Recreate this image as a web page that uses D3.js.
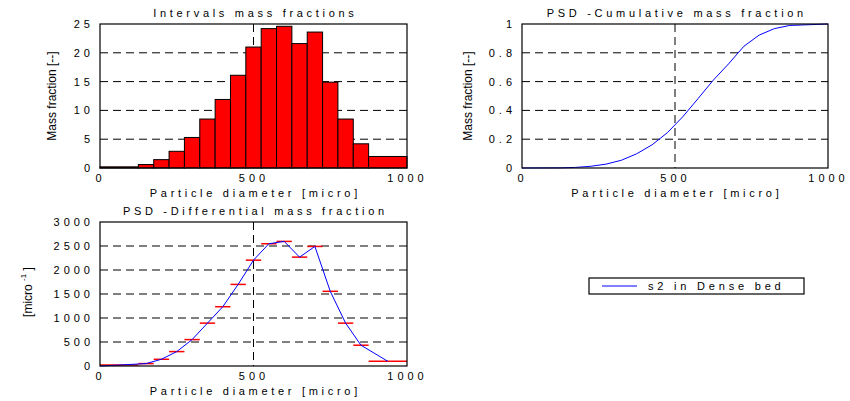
<!DOCTYPE html>
<html>
<head>
<meta charset="utf-8">
<script src="https://cdn.jsdelivr.net/npm/d3@7"></script>
<style>
  body { margin: 0; background: #fff; }
  svg { display: block; font-family: "Liberation Sans", Arial, Helvetica, sans-serif; }
</style>
</head>
<body>
<div id="chart"></div>
<script>
// PSD panels: interval fractions, cumulative, differential

// bin edges in micro
const binEdges = [0, 125, 175, 225, 275, 325, 375, 425, 475, 525, 575, 625, 675, 725, 775, 825, 875, 1000];
// interval mass fraction per bin
const intervalFractions = [0.2, 0.6, 1.45, 2.9, 5.3, 8.5, 11.9, 16.1, 21.0, 24.2, 24.6, 21.6, 23.6, 14.9, 8.5, 4.2, 2.0];
// cumulative mass fraction at each bin edge
const cumulativeFractions = [0, 0.001, 0.004, 0.012, 0.027, 0.054, 0.099, 0.161, 0.245, 0.355, 0.481, 0.610, 0.723, 0.845, 0.923, 0.968, 0.990, 1.0];
// differential values per bin (red steps)
const differentialValues = [20, 50, 140, 300, 550, 893, 1235, 1700, 2205, 2547, 2596, 2268, 2491, 1556, 893, 433, 98];
// blue differential line
const differentialLineDiameters = [0, 62.5, 150, 200, 250, 300, 350, 400, 450, 500, 550, 600, 650, 700, 750, 800, 850, 937.5];
const differentialLineValues = [0, 20, 50, 140, 300, 550, 893, 1235, 1700, 2205, 2547, 2596, 2268, 2491, 1556, 893, 433, 98];

const xTicks = [0, 500, 1000];
const intervalTicks = [0, 5, 10, 15, 20, 25];
const cumulativeTicks = [0, 0.2, 0.4, 0.6, 0.8, 1];
const cumulativeTickLabels = ["0", "0.2", "0.4", "0.6", "0.8", "1"];
const differentialTicks = [0, 500, 1000, 1500, 2000, 2500, 3000];
const legendLabel = "s2 in Dense bed";

const width = 850, height = 401;
const spaced = 3.7;   // letter spacing of titles / axis titles
const tickSpacing = 4;

const svg = d3.select("#chart").append("svg")
    .attr("width", width)
    .attr("height", height);

function drawPanel(o) {
    const x = d3.scaleLinear().domain([0, 1000]).range([o.left, o.left + o.w]);
    const y = d3.scaleLinear().domain(o.yDomain).range([o.top + o.h, o.top]);
    const g = svg.append("g");

    // dashed grid
    const grid = g.append("g")
        .attr("stroke", "#000")
        .attr("stroke-width", 1)
        .attr("stroke-dasharray", "8,5");
    grid.selectAll("line.h")
        .data(o.yTicks.slice(1, -1))
        .join("line")
        .attr("class", "h")
        .attr("x1", o.left).attr("x2", o.left + o.w)
        .attr("y1", d => y(d)).attr("y2", d => y(d));
    grid.append("line")
        .attr("x1", x(500)).attr("x2", x(500))
        .attr("y1", o.top).attr("y2", o.top + o.h);

    // y tick labels
    const yAxis = d3.axisLeft(y)
        .tickValues(o.yTicks)
        .tickFormat((d, i) => o.yLabels ? o.yLabels[i] : d)
        .tickSize(0)
        .tickPadding(10 - tickSpacing);
    g.append("g")
        .attr("transform", `translate(${o.left},0)`)
        .call(yAxis)
        .call(a => a.select(".domain").remove())
        .selectAll("text")
        .attr("fill", "#000")
        .style("font-size", "11px")
        .style("letter-spacing", tickSpacing + "px")
        .style("font-family", "inherit");

    // x tick labels
    const xAxis = d3.axisBottom(x)
        .tickValues(xTicks)
        .tickFormat(d => d)
        .tickSize(0)
        .tickPadding(6);
    g.append("g")
        .attr("transform", `translate(0,${o.top + o.h})`)
        .call(xAxis)
        .call(a => a.select(".domain").remove())
        .selectAll("text")
        .attr("fill", "#000")
        .style("font-size", "11px")
        .style("letter-spacing", tickSpacing + "px")
        .style("font-family", "inherit");

    // title and x axis title
    g.append("text")
        .attr("x", o.left + o.w / 2 + spaced / 2)
        .attr("y", o.top - 7.5)
        .attr("text-anchor", "middle")
        .style("font-size", "11px")
        .style("letter-spacing", spaced + "px")
        .text(o.title);
    g.append("text")
        .attr("x", o.left + o.w / 2 + spaced / 2)
        .attr("y", o.top + o.h + 28.5)
        .attr("text-anchor", "middle")
        .style("font-size", "11px")
        .style("letter-spacing", spaced + "px")
        .text("Particle diameter [micro]");

    return { x, y, g };
}

function drawFrame(o) {
    svg.append("rect")
        .attr("x", o.left).attr("y", o.top)
        .attr("width", o.w).attr("height", o.h)
        .attr("fill", "none")
        .attr("stroke", "#000")
        .attr("stroke-width", 1.2);
}

// ---- Intervals mass fractions ----
const p1 = { left: 100, top: 24, w: 307, h: 144, yDomain: [0, 25], yTicks: intervalTicks, title: "Intervals mass fractions" };
const c1 = drawPanel(p1);
c1.g.append("g")
    .selectAll("rect")
    .data(intervalFractions)
    .join("rect")
    .attr("x", (d, i) => c1.x(binEdges[i]))
    .attr("width", (d, i) => c1.x(binEdges[i + 1]) - c1.x(binEdges[i]))
    .attr("y", d => c1.y(d))
    .attr("height", d => c1.y(0) - c1.y(d))
    .attr("fill", "#ff0000")
    .attr("stroke", "#000")
    .attr("stroke-width", 1);
drawFrame(p1);
c1.g.append("text")
    .attr("transform", `translate(56,${p1.top + p1.h / 2}) rotate(-90)`)
    .attr("text-anchor", "middle")
    .style("font-size", "12px")
    .text("Mass fraction [--]");

// ---- Cumulative ----
const p2 = { left: 522, top: 24, w: 306, h: 144, yDomain: [0, 1], yTicks: cumulativeTicks, yLabels: cumulativeTickLabels, title: "PSD -Cumulative mass fraction" };
const c2 = drawPanel(p2);
c2.g.append("path")
    .datum(cumulativeFractions)
    .attr("fill", "none")
    .attr("stroke", "#0000ff")
    .attr("stroke-width", 1)
    .attr("d", d3.line().x((d, i) => c2.x(binEdges[i])).y(d => c2.y(d)));
drawFrame(p2);
c2.g.append("text")
    .attr("transform", `translate(472,${p2.top + p2.h / 2}) rotate(-90)`)
    .attr("text-anchor", "middle")
    .style("font-size", "12px")
    .text("Mass fraction [--]");

// ---- Differential ----
const p3 = { left: 100, top: 222, w: 307, h: 144, yDomain: [0, 3000], yTicks: differentialTicks, title: "PSD -Differential mass fraction" };
const c3 = drawPanel(p3);
c3.g.append("g")
    .selectAll("line")
    .data(differentialValues)
    .join("line")
    .attr("x1", (d, i) => c3.x(binEdges[i]))
    .attr("x2", (d, i) => c3.x(binEdges[i + 1]))
    .attr("y1", d => c3.y(d))
    .attr("y2", d => c3.y(d))
    .attr("stroke", "#ff0000")
    .attr("stroke-width", 1.5);
c3.g.append("path")
    .datum(differentialLineValues)
    .attr("fill", "none")
    .attr("stroke", "#0000ff")
    .attr("stroke-width", 1)
    .attr("d", d3.line().x((d, i) => c3.x(differentialLineDiameters[i])).y(d => c3.y(d)));
drawFrame(p3);
const ylab = c3.g.append("text")
    .attr("transform", `translate(32,${p3.top + p3.h / 2 - 2}) rotate(-90)`)
    .attr("text-anchor", "middle")
    .style("font-size", "12px");
ylab.append("tspan").text("[micro ");
ylab.append("tspan").attr("dy", -6).style("font-size", "8px").text("-1");
ylab.append("tspan").attr("dy", 6).text(" ]");

// ---- Legend ----
const legend = svg.append("g").attr("transform", "translate(589,278)");
legend.append("rect")
    .attr("width", 215).attr("height", 16)
    .attr("fill", "#fff")
    .attr("stroke", "#000")
    .attr("stroke-width", 1.2);
legend.append("line")
    .attr("x1", 13).attr("x2", 48)
    .attr("y1", 8).attr("y2", 8)
    .attr("stroke", "#0000ff")
    .attr("stroke-width", 1);
legend.append("text")
    .attr("x", 59).attr("y", 12)
    .style("font-size", "11px")
    .style("letter-spacing", "3.8px")
    .text(legendLabel);
</script>
</body>
</html>
